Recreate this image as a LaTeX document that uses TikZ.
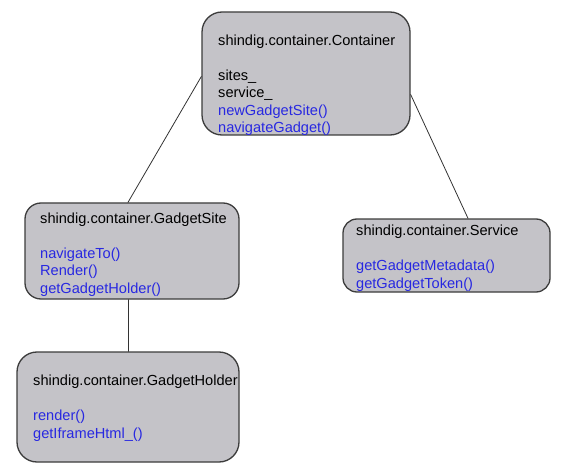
\documentclass[tikz,border=0pt]{standalone}
\usepackage{fontspec}
\setmainfont{Liberation Sans}
\usepackage{tikz}
\usepackage{xcolor}

\definecolor{boxgray}{RGB}{196,195,200}
\definecolor{boxline}{RGB}{60,60,60}
\definecolor{methblue}{RGB}{40,40,225}

\tikzset{
  umlbox/.style={draw=boxline,fill=boxgray,line width=1.3pt},
  umltext/.style={anchor=base west,align=left,inner sep=0pt,
    font=\fontsize{14.6}{17.4}\selectfont},
  link/.style={draw=black!80,line width=0.8pt}
}

\newcommand{\meth}[1]{\textcolor{methblue}{#1}}

\begin{document}
\begin{tikzpicture}[x=1pt,y=-1pt,line cap=round,line join=round]
\useasboundingbox (0,0) rectangle (578,473);

\node[umlbox,minimum width=208pt,minimum height=123pt,rounded corners=20pt] (container) at (306,73.5) {};
\node[umlbox,minimum width=214pt,minimum height=96pt,rounded corners=16pt] (site) at (132,251) {};
\node[umlbox,minimum width=222pt,minimum height=110pt,rounded corners=20pt] (holder) at (128,407) {};
\node[umlbox,minimum width=207pt,minimum height=73pt,rounded corners=14pt] (service) at (446.5,255.5) {};

% class texts, placed by the baseline of their last line
\node[umltext] (containerText) at (218,132.5) {shindig.container.Container\\[17.4pt]
  sites\_\\ service\_\\ \meth{newGadgetSite()}\\ \meth{navigateGadget()}};
\node[umltext] (siteText) at (40,293) {shindig.container.GadgetSite\\[17.4pt]
  \meth{navigateTo()}\\ \meth{Render()}\\ \meth{getGadgetHolder()}};
\node[umltext] (holderText) at (33,438) {shindig.container.GadgetHolder\\[17.4pt]
  \meth{render()}\\ \meth{getIframeHtml\_()}};
\node[umltext] (serviceText) at (356,288) {shindig.container.Service\\[17.4pt]
  \meth{getGadgetMetadata()}\\ \meth{getGadgetToken()}};

\draw[link] ([yshift=-3pt]container.west) -- ([xshift=-4pt]site.north);
\draw[link] ([yshift=-21pt]container.east) -- ([xshift=21.5pt]service.north);
\draw[link] ([xshift=-4pt]site.south) -- (holder.north);
\end{tikzpicture}
\end{document}
